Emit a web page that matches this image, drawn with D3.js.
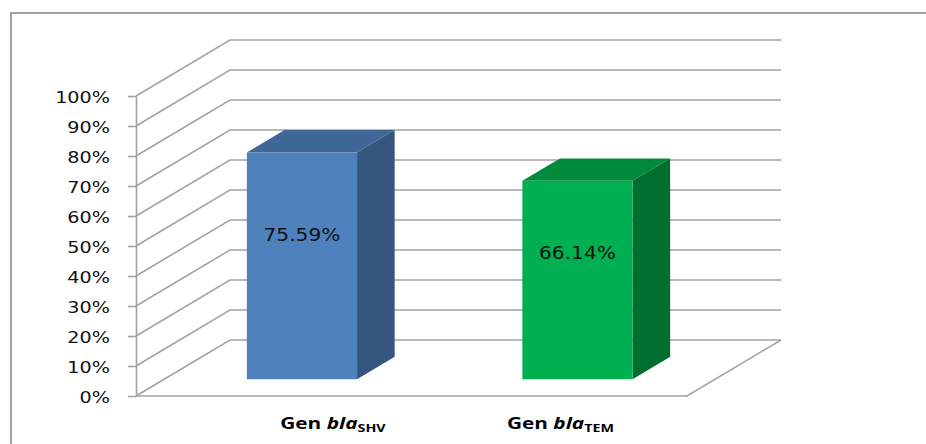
<html>
<head>
  <style>
  body {
    margin: 0;
    background: #fff;
  }
  svg {
    display: block;
  }
  </style>
</head>
<body>
  <div id="chart"></div>

  <script src="https://d3js.org/d3.v7.min.js"></script>
  <script>
  'use strict';

  // data
  var categories = ['SHV', 'TEM'];
  var values = [0.7559, 0.6614];
  var valueLabels = ['75.59%', '66.14%'];
  var yTicks = [0, 0.1, 0.2, 0.3, 0.4, 0.5, 0.6, 0.7, 0.8, 0.9, 1.0];

  var width = 926,
      height = 444;

  // 3d box of the plot: front floor, and the offset of the back wall
  var plotLeft = 136, plotRight = 687, plotBottom = 396, plotTop = 96;
  var depthX = 94, depthY = -56;
  var barZ = [0.3, 0.7];            // bars sit in the middle of the depth
  var labelShift = [31, -17];        // category labels are not centred on bars

  var fronts = ['#4f81bd', '#00b050'],
      tops   = ['#3f6898', '#008a3d'],
      sides  = ['#34557d', '#006e2f'];

  var svg = d3.select('#chart').append('svg')
      .attr('width', width)
      .attr('height', height);

  // outer frame (right and bottom edges run off the picture)
  svg.append('rect')
      .attr('x', 11).attr('y', 13)
      .attr('width', 930).attr('height', 450)
      .attr('fill', 'none')
      .attr('stroke', '#8c8c8c')
      .attr('stroke-width', 1.6);

  var x = d3.scaleBand()
      .domain(categories)
      .range([plotLeft, plotRight])
      .paddingInner(0.6)
      .paddingOuter(0.3);

  var y = d3.scaleLinear()
      .domain([0, 1])
      .range([plotBottom, plotTop]);

  function pt(px, py, z) {
    return [px + z * depthX, py + z * depthY];
  }

  var line = d3.line();
  var grid = '#a3a3a3';

  // gridlines: left wall diagonal + back wall
  svg.append('g').selectAll('path')
    .data(yTicks)
    .join('path')
      .attr('d', function(d) {
        return line([pt(plotLeft, y(d), 0), pt(plotLeft, y(d), 1), pt(plotRight, y(d), 1)]);
      })
      .attr('fill', 'none')
      .attr('stroke', grid)
      .attr('stroke-width', 1.6);

  // floor: front edge and right side
  svg.append('path')
      .attr('d', line([pt(plotLeft, y(0), 0), pt(plotRight, y(0), 0), pt(plotRight, y(0), 1)]))
      .attr('fill', 'none')
      .attr('stroke', grid)
      .attr('stroke-width', 1.6);

  // y axis
  var yAxis = d3.axisLeft(y)
      .tickValues(yTicks)
      .tickFormat(d3.format('.0%'))
      .tickSize(8)
      .tickSizeOuter(0);

  var ag = svg.append('g')
      .attr('transform', 'translate(' + plotLeft + ',0)')
      .call(yAxis);

  ag.select('.domain').attr('stroke', grid).attr('stroke-width', 1.6);
  ag.selectAll('.tick line').attr('stroke', grid).attr('stroke-width', 1.6);
  ag.selectAll('.tick text')
      .attr('x', 0)
      .attr('dy', '0.45em')
      .attr('transform', 'translate(-26,0) scale(1.28,1)')
      .attr('fill', '#111')
      .style('font-family', '"DejaVu Sans", Verdana, sans-serif')
      .style('font-size', '15px');

  // bars
  var bw = x.bandwidth();
  var bars = svg.append('g').selectAll('g')
    .data(values)
    .join('g');

  bars.append('path')   // top
      .attr('d', function(d, i) {
        var xl = x(categories[i]), xr = xl + bw, yt = y(d);
        return line([pt(xl, yt, barZ[0]), pt(xr, yt, barZ[0]), pt(xr, yt, barZ[1]), pt(xl, yt, barZ[1])]) + 'Z';
      })
      .attr('fill', function(d, i) { return tops[i]; });

  bars.append('path')   // side
      .attr('d', function(d, i) {
        var xr = x(categories[i]) + bw, yt = y(d), yb = y(0);
        return line([pt(xr, yt, barZ[0]), pt(xr, yb, barZ[0]), pt(xr, yb, barZ[1]), pt(xr, yt, barZ[1])]) + 'Z';
      })
      .attr('fill', function(d, i) { return sides[i]; });

  bars.append('path')   // front
      .attr('d', function(d, i) {
        var xl = x(categories[i]), xr = xl + bw, yt = y(d), yb = y(0);
        return line([pt(xl, yt, barZ[0]), pt(xr, yt, barZ[0]), pt(xr, yb, barZ[0]), pt(xl, yb, barZ[0])]) + 'Z';
      })
      .attr('fill', function(d, i) { return fronts[i]; });

  // value labels on the front faces
  bars.append('text')
      .attr('transform', function(d, i) {
        var c = pt(x(categories[i]) + bw / 2, y(0) - 0.64 * (y(0) - y(d)), barZ[0]);
        return 'translate(' + c[0] + ',' + c[1] + ') scale(1.12,1)';
      })
      .attr('dy', '0.36em')
      .attr('text-anchor', 'middle')
      .attr('fill', '#111')
      .style('font-family', '"DejaVu Sans", Verdana, sans-serif')
      .style('font-size', '18px')
      .text(function(d, i) { return valueLabels[i]; });

  // category labels: Gen bla<sub>XXX</sub>
  var cl = svg.append('g').selectAll('text')
    .data(categories)
    .join('text')
      .attr('transform', function(d, i) {
        var c = pt(x(d) + bw / 2, y(0), barZ[0]);
        return 'translate(' + (c[0] + labelShift[i]) + ',429) scale(1.3,1)';
      })
      .attr('text-anchor', 'middle')
      .attr('fill', '#000')
      .style('font-family', '"Open Sans", "Liberation Sans", sans-serif')
      .style('font-size', '16px')
      .style('font-weight', 'bold');

  cl.append('tspan').text('Gen ');
  cl.append('tspan').style('font-style', 'italic').text('bla');
  cl.append('tspan')
      .attr('dy', 3)
      .style('font-size', '11px')
      .text(function(d) { return d; });
  </script>
</body>
</html>
